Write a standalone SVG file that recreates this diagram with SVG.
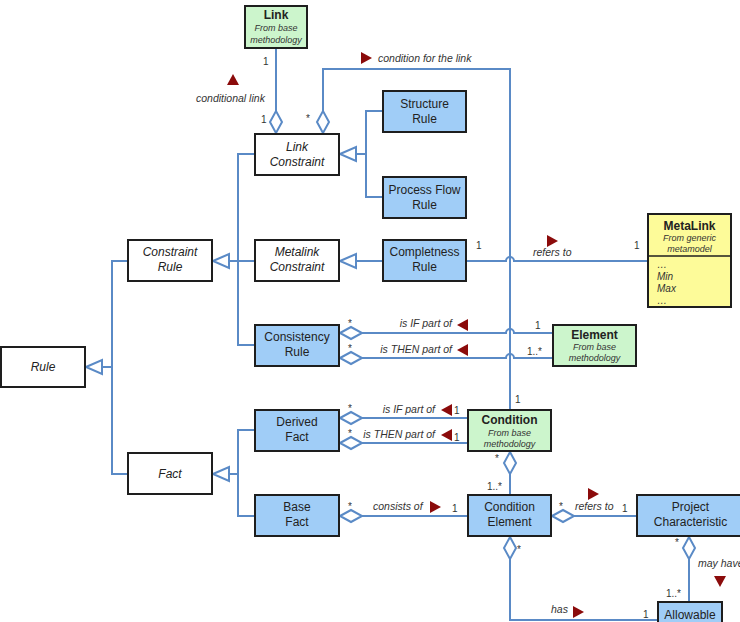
<svg xmlns="http://www.w3.org/2000/svg" xmlns:xlink="http://www.w3.org/1999/xlink" width="740" height="622" viewBox="0 0 740 622">
<style>
.ln{fill:none;stroke:#5a8ac6;stroke-width:2}
.dia{fill:#fff;stroke:#5a8ac6;stroke-width:2}
.gen{fill:#fff;stroke:#5a8ac6;stroke-width:2}
.rt{fill:#8b0b0b}
.box{stroke:#1e1e1e;stroke-width:2}
.abs{fill:#fff}
.blue{fill:#a0cdf7}
.green{fill:#ccf5cc}
.yellow{fill:#fdfb99}
text{font-family:"Liberation Sans",Arial,sans-serif}
.t{font-size:12px;fill:#222;text-anchor:middle}
.i{font-style:italic}
.b{font-weight:bold}
.sub{font-size:9px;font-style:italic;fill:#333;text-anchor:middle}
.attr{font-size:10px;font-style:italic;fill:#333}
.lbl{font-size:10.5px;font-style:italic;fill:#333}
.m{font-size:10px;fill:#333}
</style>
<defs>
<path id="dm" d="M0,0 L11,-6 L22,0 L11,6 Z"/>
<path id="gt" d="M0,0 L16,-7 L16,7 Z"/>
<path id="rt" d="M-5,-6 L6,0 L-5,6 Z"/>
</defs>
<g id="connectors">
<path class="ln" d="M276,49 V111"/>
<path class="ln" d="M323,111 V69 H510 V409"/>
<path class="ln" d="M382,111 H366 V197 H382 M366,154 H356"/>
<path class="ln" d="M254,154 H238 V345 H254 M254,261 H229"/>
<path class="ln" d="M382,261 H356"/>
<path class="ln" d="M127,261 H112 V474 H127 M112,367 H102"/>
<path class="ln" d="M254,430 H238 V516 H254 M238,474 H229"/>
<path class="ln" d="M467,261 H506 A4,4 0 0 1 514,261 H647"/>
<path class="ln" d="M361,333 H506 A4,4 0 0 1 514,333 H552"/>
<path class="ln" d="M361,358 H506 A4,4 0 0 1 514,358 H552"/>
<path class="ln" d="M361,418 H467"/>
<path class="ln" d="M361,443 H467"/>
<path class="ln" d="M510,474 V494"/>
<path class="ln" d="M361,516 H467"/>
<path class="ln" d="M574,516 H636"/>
<path class="ln" d="M689,559 V601"/>
<path class="ln" d="M510,559 V620 H658"/>
<use href="#dm" class="dia" transform="translate(276,133) rotate(-90)"/>
<use href="#dm" class="dia" transform="translate(323,133) rotate(-90)"/>
<use href="#dm" class="dia" transform="translate(340,333)"/>
<use href="#dm" class="dia" transform="translate(340,358)"/>
<use href="#dm" class="dia" transform="translate(340,418)"/>
<use href="#dm" class="dia" transform="translate(340,443)"/>
<use href="#dm" class="dia" transform="translate(340,516)"/>
<use href="#dm" class="dia" transform="translate(510,452) rotate(90)"/>
<use href="#dm" class="dia" transform="translate(552,516)"/>
<use href="#dm" class="dia" transform="translate(689,537) rotate(90)"/>
<use href="#dm" class="dia" transform="translate(510,537) rotate(90)"/>
<use href="#gt" class="gen" transform="translate(340,154)"/>
<use href="#gt" class="gen" transform="translate(213,261)"/>
<use href="#gt" class="gen" transform="translate(340,261)"/>
<use href="#gt" class="gen" transform="translate(86,367)"/>
<use href="#gt" class="gen" transform="translate(213,474)"/>
<use href="#rt" class="rt" transform="translate(366,58)"/>
<use href="#rt" class="rt" transform="translate(233,80) rotate(-90)"/>
<use href="#rt" class="rt" transform="translate(552,241)"/>
<use href="#rt" class="rt" transform="translate(463,325) rotate(180)"/>
<use href="#rt" class="rt" transform="translate(463,350) rotate(180)"/>
<use href="#rt" class="rt" transform="translate(447,410) rotate(180)"/>
<use href="#rt" class="rt" transform="translate(447,435) rotate(180)"/>
<use href="#rt" class="rt" transform="translate(435,507)"/>
<use href="#rt" class="rt" transform="translate(593,494)"/>
<use href="#rt" class="rt" transform="translate(720,581) rotate(90)"/>
<use href="#rt" class="rt" transform="translate(578,612)"/>
<text class="lbl" x="378" y="62">condition for the link</text>
<text class="lbl" x="196" y="102">conditional link</text>
<text class="lbl" x="533" y="256">refers to</text>
<text class="lbl" x="452" y="327" text-anchor="end">is IF part of</text>
<text class="lbl" x="452" y="353" text-anchor="end">is THEN part of</text>
<text class="lbl" x="435" y="413" text-anchor="end">is IF part of</text>
<text class="lbl" x="435" y="438" text-anchor="end">is THEN part of</text>
<text class="lbl" x="373" y="510">consists of</text>
<text class="lbl" x="575" y="510">refers to</text>
<text class="lbl" x="698" y="567">may have</text>
<text class="lbl" x="551" y="613">has</text>
<text class="m" x="263" y="65">1</text>
<text class="m" x="261" y="123">1</text>
<text class="m" x="306" y="122">*</text>
<text class="m" x="476" y="249">1</text>
<text class="m" x="634" y="249">1</text>
<text class="m" x="348" y="327">*</text>
<text class="m" x="348" y="352">*</text>
<text class="m" x="535" y="329">1</text>
<text class="m" x="527" y="355">1..*</text>
<text class="m" x="348" y="412">*</text>
<text class="m" x="348" y="437">*</text>
<text class="m" x="454" y="414">1</text>
<text class="m" x="454" y="441">1</text>
<text class="m" x="515" y="403">1</text>
<text class="m" x="495" y="462">*</text>
<text class="m" x="487" y="490">1..*</text>
<text class="m" x="348" y="510">*</text>
<text class="m" x="452" y="512">1</text>
<text class="m" x="559" y="510">*</text>
<text class="m" x="622" y="512">1</text>
<text class="m" x="675" y="546">*</text>
<text class="m" x="666" y="597">1..*</text>
<text class="m" x="517" y="553">*</text>
<text class="m" x="643" y="618">1</text>
</g>
<g id="link"><rect class="box green" x="245" y="6" width="62" height="42"/><text class="t b" x="276" y="19">Link</text><text class="sub" x="276" y="31">From base</text><text class="sub" x="276" y="43">methodology</text></g>
<g id="link-constraint"><rect class="box abs" x="255" y="134" width="84" height="41"/><text class="t i" x="297" y="151">Link</text><text class="t i" x="297" y="166">Constraint</text></g>
<g id="structure-rule"><rect class="box blue" x="383" y="91" width="83" height="41"/><text class="t" x="424.5" y="108">Structure</text><text class="t" x="424.5" y="123">Rule</text></g>
<g id="process-flow-rule"><rect class="box blue" x="383" y="177" width="83" height="41"/><text class="t" x="424.5" y="194">Process Flow</text><text class="t" x="424.5" y="209">Rule</text></g>
<g id="constraint-rule"><rect class="box abs" x="128" y="240" width="84" height="41"/><text class="t i" x="170" y="256">Constraint</text><text class="t i" x="170" y="271">Rule</text></g>
<g id="metalink-constraint"><rect class="box abs" x="255" y="240" width="84" height="41"/><text class="t i" x="297" y="256">Metalink</text><text class="t i" x="297" y="271">Constraint</text></g>
<g id="completness-rule"><rect class="box blue" x="383" y="240" width="83" height="41"/><text class="t" x="424.5" y="256">Completness</text><text class="t" x="424.5" y="271">Rule</text></g>
<g id="metalink"><rect class="box yellow" x="648" y="214" width="83" height="93"/><path d="M648,256 H731" stroke="#1e1e1e" stroke-width="1.5"/><text class="t b" x="689.5" y="230">MetaLink</text><text class="sub" x="689.5" y="241">From generic</text><text class="sub" x="689.5" y="252">metamodel</text><text class="attr" x="657" y="268">…</text><text class="attr" x="657" y="280">Min</text><text class="attr" x="657" y="292">Max</text><text class="attr" x="657" y="304">…</text></g>
<g id="consistency-rule"><rect class="box blue" x="255" y="325" width="84" height="41"/><text class="t" x="297" y="341">Consistency</text><text class="t" x="297" y="356">Rule</text></g>
<g id="element"><rect class="box green" x="553" y="325" width="83" height="41"/><text class="t b" x="594.5" y="339">Element</text><text class="sub" x="594.5" y="350">From base</text><text class="sub" x="594.5" y="361">methodology</text></g>
<g id="rule"><rect class="box abs" x="1" y="347" width="84" height="40"/><text class="t i" x="43" y="371">Rule</text></g>
<g id="derived-fact"><rect class="box blue" x="255" y="410" width="84" height="41"/><text class="t" x="297" y="426">Derived</text><text class="t" x="297" y="441">Fact</text></g>
<g id="condition"><rect class="box green" x="468" y="410" width="83" height="41"/><text class="t b" x="509.5" y="424">Condition</text><text class="sub" x="509.5" y="436">From base</text><text class="sub" x="509.5" y="447">methodology</text></g>
<g id="fact"><rect class="box abs" x="128" y="453" width="84" height="41"/><text class="t i" x="170" y="478">Fact</text></g>
<g id="base-fact"><rect class="box blue" x="255" y="495" width="84" height="41"/><text class="t" x="297" y="511">Base</text><text class="t" x="297" y="526">Fact</text></g>
<g id="condition-element"><rect class="box blue" x="468" y="495" width="83" height="41"/><text class="t" x="509.5" y="511">Condition</text><text class="t" x="509.5" y="526">Element</text></g>
<g id="project-characteristic"><rect class="box blue" x="637" y="495" width="108" height="41"/><text class="t" x="690.5" y="511">Project</text><text class="t" x="690.5" y="526">Characteristic</text></g>
<g id="allowable"><rect class="box blue" x="658" y="602" width="64" height="38"/><text class="t" x="690" y="619">Allowable</text></g>
</svg>
